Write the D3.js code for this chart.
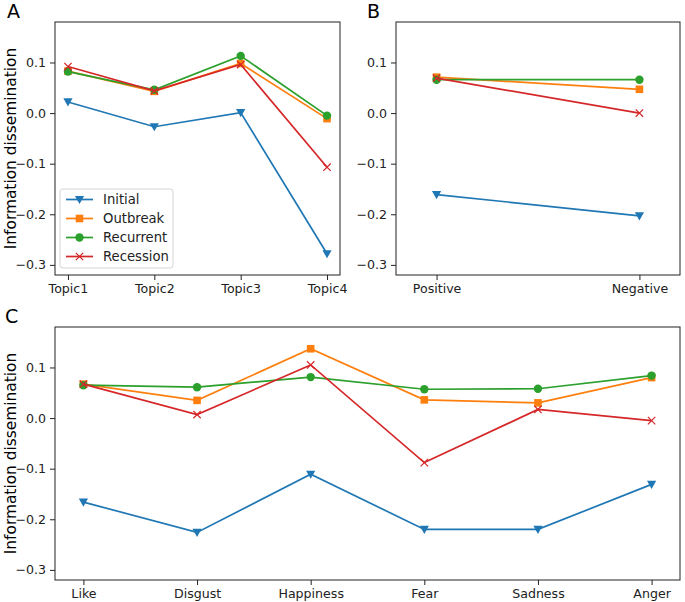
<!DOCTYPE html>
<html>
<head>
<meta charset="utf-8">
<script src="https://cdn.jsdelivr.net/npm/d3@7"></script>
<style>
  body { margin: 0; background: #fff; }
  svg { display: block; }
</style>
</head>
<body>
<svg id="chart" width="685" height="602" viewBox="0 0 685 602"></svg>
<script>
const seriesNames = ["Initial", "Outbreak", "Recurrent", "Recession"];
const seriesColors = ["#1f77b4", "#ff7f0e", "#2ca02c", "#d62728"];

// panel A
const topics = ["Topic1", "Topic2", "Topic3", "Topic4"];
const topicInitial = [0.022, -0.027, 0.001, -0.278];
const topicOutbreak = [0.083, 0.043, 0.098, -0.011];
const topicRecurrent = [0.082, 0.046, 0.113, -0.005];
const topicRecession = [0.092, 0.044, 0.096, -0.107];

// panel B
const polarity = ["Positive", "Negative"];
const polarityInitial = [-0.161, -0.203];
const polarityOutbreak = [0.071, 0.047];
const polarityRecurrent = [0.066, 0.066];
const polarityRecession = [0.069, 0.000];

// panel C
const emotions = ["Like", "Disgust", "Happiness", "Fear", "Sadness", "Anger"];
const emotionInitial = [-0.166, -0.226, -0.111, -0.220, -0.220, -0.131];
const emotionOutbreak = [0.067, 0.035, 0.137, 0.036, 0.030, 0.080];
const emotionRecurrent = [0.065, 0.061, 0.081, 0.057, 0.058, 0.084];
const emotionRecession = [0.067, 0.007, 0.105, -0.088, 0.017, -0.005];

const yTicks = [-0.3, -0.2, -0.1, 0.0, 0.1];
const yTickLabels = ["\u22120.3", "\u22120.2", "\u22120.1", "0.0", "0.1"];

const svg = d3.select("#chart");
const font = "DejaVu Sans, sans-serif";

function marker(g, kind, color) {
  if (kind === 0) {
    g.append("path").attr("d", "M-4.6,-3.6L4.6,-3.6L0,4.6Z").attr("fill", color);
  } else if (kind === 1) {
    g.append("rect").attr("x", -3.8).attr("y", -3.8).attr("width", 7.6).attr("height", 7.6).attr("fill", color);
  } else if (kind === 2) {
    g.append("circle").attr("r", 4.2).attr("fill", color);
  } else {
    g.append("path").attr("d", "M-3.7,-3.7L3.7,3.7M-3.7,3.7L3.7,-3.7")
      .attr("stroke", color).attr("stroke-width", 1.2).attr("fill", "none");
  }
}

function panel(opts) {
  const { left, right, top, bottom, cats, xDomain, series, letter, letterX, showYLabel } = opts;
  const x = d3.scaleLinear().domain(xDomain).range([left, right]);
  const y = d3.scaleLinear().domain([-0.32, 0.18]).range([bottom, top]);
  const g = svg.append("g");

  const lineGen = d3.line().x((d, i) => x(i)).y(d => y(d));
  series.forEach((vals, s) => {
    g.append("path")
      .attr("d", lineGen(vals))
      .attr("fill", "none")
      .attr("stroke", seriesColors[s])
      .attr("stroke-width", 1.7);
    vals.forEach((v, i) => {
      const m = g.append("g").attr("transform", `translate(${x(i)},${y(v)})`);
      marker(m, s, seriesColors[s]);
    });
  });

  g.append("rect")
    .attr("x", left).attr("y", top)
    .attr("width", right - left).attr("height", bottom - top)
    .attr("fill", "none").attr("stroke", "#222").attr("stroke-width", 1);

  g.append("g")
    .attr("transform", `translate(${left},0)`)
    .call(d3.axisLeft(y).tickValues(yTicks).tickFormat((d, i) => yTickLabels[i]).tickSize(5).tickPadding(4))
    .call(c => c.select(".domain").remove())
    .call(c => c.selectAll("line").attr("stroke", "#222"))
    .call(c => c.selectAll("text").attr("font-family", font).attr("font-size", 12.6).attr("fill", "#222"));

  g.append("g")
    .attr("transform", `translate(0,${bottom})`)
    .call(d3.axisBottom(x).tickValues(d3.range(cats.length)).tickFormat(i => cats[i]).tickSize(5).tickPadding(4))
    .call(c => c.select(".domain").remove())
    .call(c => c.selectAll("line").attr("stroke", "#222"))
    .call(c => c.selectAll("text").attr("font-family", font).attr("font-size", 12.6).attr("fill", "#222"));

  svg.append("text")
    .attr("x", letterX).attr("y", top - 4)
    .attr("font-family", font).attr("font-size", 19).attr("fill", "#000")
    .text(letter);

  if (showYLabel) {
    svg.append("text")
      .attr("transform", `translate(16,${(top + bottom) / 2}) rotate(-90)`)
      .attr("text-anchor", "middle")
      .attr("font-family", font).attr("font-size", 15.4).attr("fill", "#000")
      .text("Information dissemination");
  }
  return { x, y };
}

panel({
  left: 55, right: 340, top: 22, bottom: 275,
  cats: topics, xDomain: [-0.15, 3.15],
  series: [topicInitial, topicOutbreak, topicRecurrent, topicRecession],
  letter: "A", letterX: 7, showYLabel: true
});

panel({
  left: 396, right: 680, top: 22, bottom: 275,
  cats: polarity, xDomain: [-0.2, 1.2],
  series: [polarityInitial, polarityOutbreak, polarityRecurrent, polarityRecession],
  letter: "B", letterX: 367, showYLabel: false
});

panel({
  left: 55, right: 680, top: 327, bottom: 580,
  cats: emotions, xDomain: [-0.25, 5.25],
  series: [emotionInitial, emotionOutbreak, emotionRecurrent, emotionRecession],
  letter: "C", letterX: 5, showYLabel: true
});

// legend in panel A
const legend = svg.append("g").attr("transform", "translate(60,189)");
legend.append("rect")
  .attr("width", 113).attr("height", 79).attr("rx", 3)
  .attr("fill", "#fff").attr("fill-opacity", 0.8)
  .attr("stroke", "#d5d5d5").attr("stroke-width", 1);
seriesNames.forEach((name, s) => {
  const row = legend.append("g").attr("transform", `translate(0,${10.5 + s * 19})`);
  row.append("line").attr("x1", 6).attr("x2", 33)
    .attr("stroke", seriesColors[s]).attr("stroke-width", 1.7);
  marker(row.append("g").attr("transform", "translate(19.5,0)"), s, seriesColors[s]);
  row.append("text").attr("x", 43).attr("dy", "0.35em")
    .attr("font-family", font).attr("font-size", 13.2).attr("fill", "#222")
    .text(name);
});
</script>
</body>
</html>
